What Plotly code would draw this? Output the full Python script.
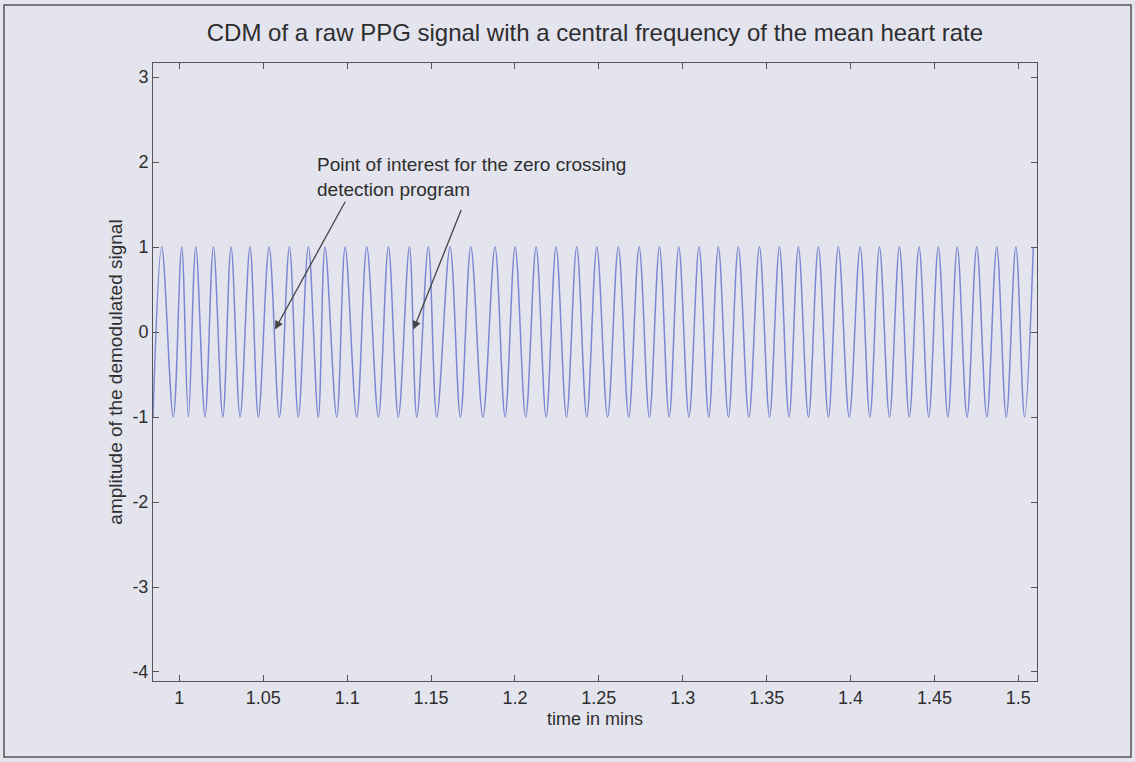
import plotly.graph_objects as go

# ---- data (time in minutes) ----
peak_times = [0.9895, 1.0014, 1.0098, 1.0203, 1.0308, 1.0421, 1.0535, 1.0656, 1.0769,
              1.0868, 1.0988, 1.1117, 1.1246, 1.1371, 1.1484, 1.1613, 1.1737, 1.1881,
              1.2001, 1.2126, 1.2245, 1.2368, 1.2488, 1.2616, 1.2740, 1.2861, 1.2976,
              1.3097, 1.3212, 1.3331, 1.3457, 1.3576, 1.3689, 1.3808, 1.3927, 1.4057,
              1.4172, 1.4291, 1.4408, 1.4523, 1.4636, 1.4752, 1.4871, 1.4985, 1.5089]
trough_times = [0.9843, 0.9964, 1.0054, 1.0153, 1.0259, 1.0362, 1.0471, 1.0596, 1.0709,
                1.0828, 1.0938, 1.1057, 1.1186, 1.1305, 1.1415, 1.1534, 1.1675, 1.1809,
                1.1941, 1.2064, 1.2186, 1.2307, 1.2428, 1.2552, 1.2678, 1.2801, 1.2919,
                1.3037, 1.3155, 1.3272, 1.3394, 1.3517, 1.3633, 1.3749, 1.3868, 1.3992,
                1.4115, 1.4232, 1.4350, 1.4466, 1.4580, 1.4694, 1.4812, 1.4928, 1.5037]
peak_value = 1.0
trough_value = -1.0

x_tick_vals = [1, 1.05, 1.1, 1.15, 1.2, 1.25, 1.3, 1.35, 1.4, 1.45, 1.5]
x_tick_text = ["1", "1.05", "1.1", "1.15", "1.2", "1.25", "1.3", "1.35", "1.4", "1.45", "1.5"]
y_tick_vals = [-4, -3, -2, -1, 0, 1, 2, 3]
y_tick_text = ["-4", "-3", "-2", "-1", "0", "1", "2", "3"]

# annotation targets (zero crossings) and arrow tails
arrow_heads_t = [1.0570, 1.1395]
arrow_heads_y = [0.03, 0.03]
arrow_tails_t = [1.0993, 1.1683]
arrow_tails_y = [1.55, 1.452]

pts = sorted([(t, peak_value) for t in peak_times] + [(t, trough_value) for t in trough_times])
xs = [p[0] for p in pts]
ys = [p[1] for p in pts]

BG = "#e4e4ee"
AX = "#555555"
TXT = "#2e2e2e"
FONT = "Liberation Sans, Arial, sans-serif"

fig = go.Figure()
fig.add_trace(go.Scatter(x=xs, y=ys, mode="lines",
                         line=dict(color="#7c86d2", width=1.5, shape="spline", smoothing=1.0),
                         hoverinfo="skip", showlegend=False))

fig.update_layout(
    width=1135, height=762,
    margin=dict(l=153, r=98, t=63, b=81),
    paper_bgcolor=BG, plot_bgcolor=BG,
    font=dict(family=FONT, color=TXT, size=18),
    title=dict(text="CDM of a raw PPG signal with a central frequency of the mean heart rate",
               x=0.5242, xanchor="center", y=1 - 33 / 762, yanchor="middle", yref="container",
               font=dict(size=24, family=FONT, color=TXT)),
    showlegend=False,
)
fig.update_xaxes(range=[0.9843, 1.5111], tickvals=x_tick_vals, ticktext=x_tick_text,
                 ticks="inside", ticklen=6, tickcolor=AX, showline=True, linecolor=AX,
                 linewidth=1, mirror="ticks", showgrid=False, zeroline=False,
                 tickfont=dict(size=18),
                 title=dict(text="time in mins", font=dict(size=18), standoff=5))
fig.update_yaxes(range=[-4.106, 3.165], tickvals=y_tick_vals, ticktext=y_tick_text,
                 ticks="inside", ticklen=6, tickcolor=AX, showline=True, linecolor=AX,
                 linewidth=1, mirror="ticks", showgrid=False, zeroline=False,
                 tickfont=dict(size=18),
                 title=dict(text="amplitude of the demodulated signal", font=dict(size=19), standoff=4))

fig.add_annotation(x=1.0809, y=2.12, xref="x", yref="y", xanchor="left", yanchor="top",
                   align="left", showarrow=False,
                   text="Point of interest for the zero crossing<br>detection program",
                   font=dict(size=19, color=TXT, family=FONT))
for hx, hy, tx, ty in zip(arrow_heads_t, arrow_heads_y, arrow_tails_t, arrow_tails_y):
    fig.add_annotation(x=hx, y=hy, ax=tx, ay=ty, xref="x", yref="y", axref="x", ayref="y",
                       text="", showarrow=True, arrowhead=2, arrowsize=1.3, arrowwidth=1.3,
                       arrowcolor="#444444")

# outer frame around the figure
L, R, T, B = 153, 1037, 63, 681
def px_x(p):
    return (p - L) / (R - L)
def px_y(p):
    return (B - p) / (B - T)
fig.add_shape(type="rect", xref="paper", yref="paper",
              x0=px_x(4), x1=px_x(1131), y0=px_y(757), y1=px_y(5),
              line=dict(color="#555555", width=1.5), fillcolor="rgba(0,0,0,0)", layer="below")

fig.write_html("out.html")
